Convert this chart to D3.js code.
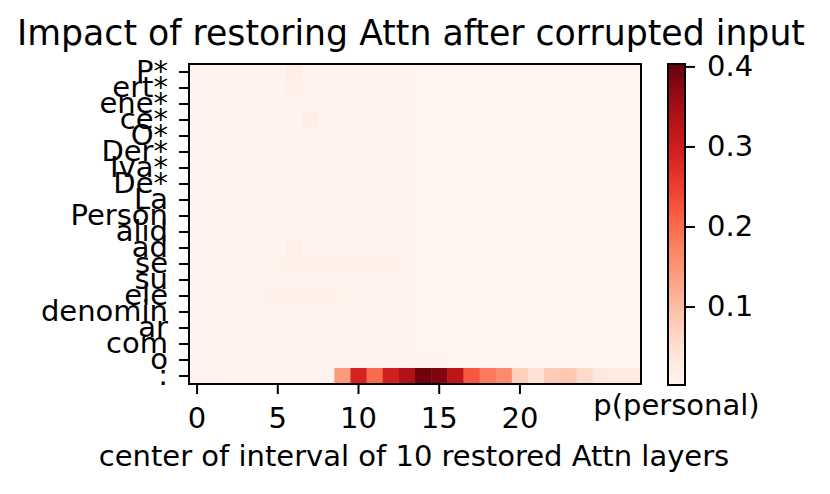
<!DOCTYPE html>
<html>
<head>
<meta charset="utf-8">
<script src="https://cdn.jsdelivr.net/npm/d3@7"></script>
<style>
  body { margin: 0; background: #fff; }
  text { font-family: "DejaVu Sans", sans-serif; fill: #000; }
</style>
</head>
<body>
<div id="chart"></div>
<script>
// tokens of the prompt (rows, top to bottom)
const tokens = ["P*", "ert*", "ene*", "ce*", "O*", "Der*", "Iva*", "De*", "La", "Person",
  "alid", "ad", "se", "su", "ele", "denomin", "ar", "com", "o", ":"];

// layer index of each column
const layers = d3.range(28);
const xTicks = [0, 5, 10, 15, 20];
const cbTicks = [0.1, 0.2, 0.3, 0.4];

// p(personal) after restoring a window of attention layers, one row per token
const r00 = [0.007,0.007,0.006,0.006,0.006,0.006,0.018,0.006,0.006,0.006,0.006,0.006,0.006,0.006,0.005,0.005,0.005,0.005,0.005,0.005,0.005,0.005,0.005,0.005,0.005,0.005,0.005,0.005];
const r01 = [0.007,0.007,0.006,0.006,0.006,0.006,0.012,0.006,0.006,0.006,0.006,0.006,0.006,0.006,0.005,0.005,0.005,0.005,0.005,0.005,0.005,0.005,0.005,0.005,0.005,0.005,0.005,0.005];
const r02 = [0.007,0.007,0.006,0.006,0.006,0.006,0.006,0.006,0.006,0.006,0.006,0.006,0.006,0.006,0.005,0.005,0.005,0.005,0.005,0.005,0.005,0.005,0.005,0.005,0.005,0.005,0.005,0.005];
const r03 = [0.007,0.007,0.006,0.006,0.006,0.006,0.006,0.018,0.006,0.006,0.006,0.006,0.006,0.006,0.005,0.005,0.005,0.005,0.005,0.005,0.005,0.005,0.005,0.005,0.005,0.005,0.005,0.005];
const r04 = [0.007,0.007,0.011,0.006,0.006,0.006,0.006,0.006,0.011,0.006,0.006,0.006,0.006,0.006,0.005,0.005,0.005,0.005,0.005,0.005,0.005,0.005,0.005,0.005,0.005,0.005,0.005,0.005];
const r05 = [0.007,0.007,0.006,0.006,0.006,0.006,0.006,0.006,0.006,0.006,0.006,0.006,0.006,0.006,0.005,0.005,0.005,0.005,0.005,0.005,0.005,0.005,0.005,0.005,0.005,0.005,0.005,0.005];
const r06 = [0.007,0.007,0.006,0.006,0.006,0.006,0.006,0.006,0.006,0.006,0.006,0.006,0.006,0.006,0.005,0.005,0.005,0.005,0.005,0.005,0.005,0.005,0.005,0.005,0.005,0.005,0.005,0.005];
const r07 = [0.007,0.007,0.006,0.006,0.006,0.006,0.006,0.006,0.006,0.006,0.006,0.006,0.006,0.006,0.005,0.005,0.005,0.005,0.005,0.005,0.005,0.005,0.005,0.005,0.005,0.005,0.005,0.005];
const r08 = [0.007,0.007,0.006,0.006,0.006,0.006,0.006,0.006,0.006,0.006,0.006,0.006,0.006,0.006,0.005,0.005,0.005,0.005,0.005,0.005,0.005,0.005,0.005,0.005,0.005,0.005,0.005,0.005];
const r09 = [0.007,0.007,0.006,0.006,0.006,0.006,0.006,0.006,0.006,0.006,0.006,0.006,0.006,0.006,0.005,0.005,0.005,0.005,0.005,0.005,0.005,0.005,0.005,0.005,0.005,0.005,0.005,0.005];
const r10 = [0.007,0.007,0.006,0.006,0.006,0.006,0.006,0.006,0.006,0.006,0.006,0.006,0.006,0.006,0.005,0.005,0.005,0.005,0.005,0.005,0.005,0.005,0.005,0.005,0.005,0.005,0.005,0.005];
const r11 = [0.007,0.007,0.006,0.006,0.006,0.006,0.016,0.007,0.007,0.009,0.009,0.009,0.007,0.006,0.005,0.005,0.005,0.005,0.005,0.005,0.005,0.005,0.005,0.005,0.005,0.005,0.005,0.005];
const r12 = [0.007,0.007,0.006,0.006,0.006,0.010,0.012,0.013,0.016,0.016,0.014,0.014,0.014,0.006,0.005,0.005,0.005,0.005,0.005,0.005,0.005,0.005,0.005,0.005,0.005,0.005,0.005,0.005];
const r13 = [0.007,0.007,0.006,0.006,0.006,0.006,0.006,0.006,0.006,0.006,0.006,0.006,0.006,0.006,0.005,0.005,0.005,0.005,0.005,0.005,0.005,0.005,0.005,0.005,0.005,0.005,0.005,0.005];
const r14 = [0.007,0.007,0.006,0.006,0.008,0.012,0.015,0.015,0.013,0.010,0.008,0.006,0.006,0.006,0.005,0.005,0.005,0.005,0.005,0.005,0.005,0.005,0.005,0.005,0.005,0.005,0.005,0.005];
const r15 = [0.007,0.007,0.006,0.006,0.006,0.006,0.006,0.006,0.006,0.006,0.006,0.006,0.006,0.006,0.005,0.005,0.005,0.005,0.005,0.005,0.005,0.005,0.005,0.005,0.005,0.005,0.005,0.005];
const r16 = [0.007,0.007,0.006,0.006,0.006,0.006,0.006,0.006,0.006,0.006,0.006,0.006,0.006,0.006,0.005,0.005,0.005,0.005,0.005,0.005,0.005,0.005,0.005,0.005,0.005,0.005,0.005,0.005];
const r17 = [0.007,0.007,0.006,0.006,0.006,0.006,0.006,0.006,0.006,0.006,0.006,0.006,0.006,0.006,0.005,0.005,0.005,0.005,0.005,0.005,0.005,0.005,0.005,0.005,0.005,0.005,0.005,0.005];
const r18 = [0.007,0.007,0.006,0.006,0.006,0.006,0.006,0.006,0.006,0.006,0.006,0.006,0.006,0.006,0.008,0.006,0.005,0.005,0.005,0.005,0.005,0.005,0.005,0.005,0.005,0.005,0.005,0.005];
const r19 = [0.008,0.008,0.007,0.007,0.007,0.007,0.007,0.007,0.008,0.142,0.290,0.200,0.295,0.335,0.395,0.383,0.322,0.222,0.182,0.162,0.074,0.042,0.082,0.086,0.058,0.034,0.026,0.026];

const rows = [r00, r01, r02, r03, r04, r05, r06, r07, r08, r09,
  r10, r11, r12, r13, r14, r15, r16, r17, r18, r19];

const vmin = 0.002, vmax = 0.403;

const width = 830, height = 494;
const plot = { left: 189, right: 641, top: 64, bottom: 384 };
const cbar = { left: 668, right: 685, top: 64, bottom: 385 };

const svg = d3.select("#chart").append("svg")
  .attr("width", width)
  .attr("height", height);

const x = d3.scaleBand().domain(layers).range([plot.left, plot.right]);
const y = d3.scaleBand().domain(d3.range(tokens.length)).range([plot.top, plot.bottom]);
const color = d3.scaleSequential(d3.interpolateReds).domain([vmin, vmax]);

// cells
const cells = [];
rows.forEach((row, i) => row.forEach((v, j) => cells.push({ i, j, v })));

svg.append("g")
  .selectAll("rect")
  .data(cells)
  .enter()
  .append("rect")
  .attr("x", d => x(d.j))
  .attr("y", d => y(d.i))
  .attr("width", x.bandwidth() + 0.5)
  .attr("height", y.bandwidth() + 0.5)
  .attr("fill", d => color(d.v));

// axes
const fontSize = 29;

const gx = svg.append("g")
  .attr("transform", "translate(0," + plot.bottom + ")")
  .call(d3.axisBottom(x).tickValues(xTicks).tickSize(10).tickPadding(13.5));

const gy = svg.append("g")
  .attr("transform", "translate(" + plot.left + ",0)")
  .call(d3.axisLeft(y).tickFormat(i => tokens[i]).tickSize(10).tickPadding(11));

[gx, gy].forEach(g => {
  g.select(".domain").remove();
  g.selectAll(".tick line").attr("stroke", "#000").attr("stroke-width", 2);
  g.selectAll(".tick text").style("font-size", fontSize + "px").attr("font-family", null);
});
gy.selectAll(".tick text").attr("dy", "0.3em");

// frame
svg.append("rect")
  .attr("x", plot.left)
  .attr("y", plot.top)
  .attr("width", plot.right - plot.left)
  .attr("height", plot.bottom - plot.top)
  .attr("fill", "none")
  .attr("stroke", "#000")
  .attr("stroke-width", 2);

// colorbar
const cb = d3.scaleLinear().domain([vmin, vmax]).range([cbar.bottom, cbar.top]);
const grad = svg.append("defs").append("linearGradient")
  .attr("id", "cbgrad")
  .attr("x1", 0).attr("y1", 1).attr("x2", 0).attr("y2", 0);
grad.selectAll("stop")
  .data(d3.range(0, 1.0001, 0.02))
  .enter()
  .append("stop")
  .attr("offset", d => d)
  .attr("stop-color", d => d3.interpolateReds(d));

svg.append("rect")
  .attr("x", cbar.left)
  .attr("y", cbar.top)
  .attr("width", cbar.right - cbar.left)
  .attr("height", cbar.bottom - cbar.top)
  .attr("fill", "url(#cbgrad)")
  .attr("stroke", "#000")
  .attr("stroke-width", 2);

const gc = svg.append("g")
  .attr("transform", "translate(" + cbar.right + ",0)")
  .call(d3.axisRight(cb).tickValues(cbTicks).tickFormat(d3.format(".1f")).tickSize(10).tickPadding(12));
gc.select(".domain").remove();
gc.selectAll(".tick line").attr("stroke", "#000").attr("stroke-width", 2);
gc.selectAll(".tick text").style("font-size", fontSize + "px").attr("font-family", null).attr("dy", "0.3em");

svg.append("text")
  .attr("x", (cbar.left + cbar.right) / 2)
  .attr("y", 415)
  .attr("text-anchor", "middle")
  .style("font-size", fontSize + "px")
  .text("p(personal)");

// labels
svg.append("text")
  .attr("x", 414)
  .attr("y", 466)
  .attr("text-anchor", "middle")
  .style("font-size", fontSize + "px")
  .text("center of interval of 10 restored Attn layers");

svg.append("text")
  .attr("x", 411)
  .attr("y", 45)
  .attr("text-anchor", "middle")
  .style("font-size", "34.7px")
  .text("Impact of restoring Attn after corrupted input");
</script>
</body>
</html>
